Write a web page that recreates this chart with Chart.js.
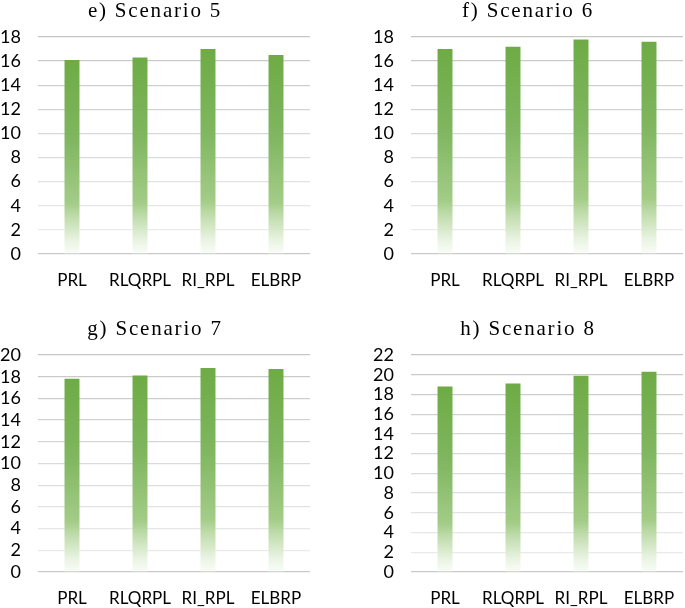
<!DOCTYPE html>
<html>
<head>
<meta charset="utf-8">
<script src="https://cdn.jsdelivr.net/npm/chart.js@4.4.1/dist/chart.umd.min.js"></script>
<style>
    body { margin: 0; background: #fff; overflow: hidden; }
    .painel { position: absolute; width: 343px; height: 292px; }
</style>
</head>
<body>
<div class="painel" style="left:-33px; top:0px;"><canvas id="grafico5"></canvas></div>
<div class="painel" style="left:340px; top:0px;"><canvas id="grafico6"></canvas></div>
<div class="painel" style="left:-33px; top:318px;"><canvas id="grafico7"></canvas></div>
<div class="painel" style="left:340px; top:318px;"><canvas id="grafico8"></canvas></div>
<script>
var categorias = ['PRL', 'RLQRPL', 'RI_RPL', 'ELBRP'];

var titulos = ['e) Scenario 5', 'f) Scenario 6', 'g) Scenario 7', 'h) Scenario 8'];

var valoresCenario5 = [16.1, 16.3, 17.0, 16.5];
var valoresCenario6 = [17.0, 17.2, 17.8, 17.6];
var valoresCenario7 = [17.8, 18.1, 18.8, 18.7];
var valoresCenario8 = [18.8, 19.1, 19.9, 20.3];

var maximosEixo = [18, 18, 20, 22];

// title drawn by hand so the letter spacing of the serif heading can match
const pluginTitulo = {
    id: 'tituloPainel',
    afterDraw(chart, args, opts) {
        const ctx = chart.ctx;
        ctx.save();
        ctx.font = '21px "Liberation Serif", "Times New Roman", serif';
        ctx.fillStyle = '#000';
        ctx.textAlign = 'center';
        ctx.textBaseline = 'middle';
        ctx.letterSpacing = '1.8px';
        ctx.fillText(opts.texto, 188, 11);
        ctx.restore();
    }
};

function corBarra(context) {
    const chart = context.chart;
    if (!chart.chartArea) return '#70ad47';
    const y = chart.scales.y;
    const valor = context.raw;
    const topo = y.getPixelForValue(valor);
    const base = y.getPixelForValue(0);
    const grad = chart.ctx.createLinearGradient(0, topo, 0, base);
    grad.addColorStop(0, '#6eab45');
    grad.addColorStop(0.4, '#7fb65f');
    grad.addColorStop(0.74, '#a3cc87');
    grad.addColorStop(0.8, '#bcdaa7');
    grad.addColorStop(0.93, '#e9f3e2');
    grad.addColorStop(1, '#fafdf8');
    return grad;
}

function corGrade(context) {
    const max = context.scale.max;
    const v = context.tick ? context.tick.value : 0;
    if (v === 0) return '#c9c9c9';
    const tom = Math.round(238 - 40 * (v / max));
    return `rgb(${tom}, ${tom}, ${tom})`;
}

function plotarCenario(idCanvas, titulo, valores, maximo) {
    const ctx = document.getElementById(idCanvas);

    const data = {
        labels: categorias,
        datasets: [
            {
                data: valores,
                backgroundColor: corBarra,
                borderWidth: 0,
                categoryPercentage: 1,
                barPercentage: 0.22
            }
        ]
    };

    const config = {
        type: 'bar',
        data: data,
        plugins: [pluginTitulo],
        options: {
            responsive: true,
            maintainAspectRatio: false,
            animation: false,
            layout: { padding: { top: 37, left: 0, right: 0, bottom: 0 } },
            plugins: {
                legend: { display: false },
                tooltip: { enabled: false },
                tituloPainel: { texto: titulo }
            },
            scales: {
                x: {
                    grid: { display: false },
                    border: { display: false },
                    ticks: {
                        color: '#000',
                        padding: 8,
                        maxRotation: 0,
                        autoSkip: false,
                        font: { family: 'Lato', size: 17 }
                    },
                    afterFit(scale) { scale.height = 38; }
                },
                y: {
                    min: 0,
                    max: maximo,
                    grid: { color: corGrade, lineWidth: 1.3, drawTicks: false },
                    border: { display: false },
                    ticks: {
                        stepSize: 2,
                        autoSkip: false,
                        color: '#000',
                        padding: 17,
                        font: { family: 'Lato', size: 18 }
                    },
                    afterFit(scale) { scale.width = 71; }
                }
            }
        }
    };

    return new Chart(ctx, config);
}

plotarCenario('grafico5', titulos[0], valoresCenario5, maximosEixo[0]);
plotarCenario('grafico6', titulos[1], valoresCenario6, maximosEixo[1]);
plotarCenario('grafico7', titulos[2], valoresCenario7, maximosEixo[2]);
plotarCenario('grafico8', titulos[3], valoresCenario8, maximosEixo[3]);
</script>
</body>
</html>
